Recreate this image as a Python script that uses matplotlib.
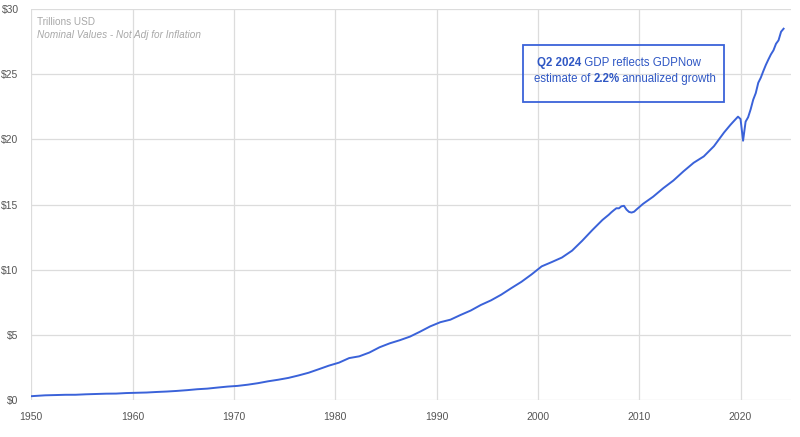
import numpy as np
import matplotlib.pyplot as plt

# US nominal GDP, trillions USD (annual points, quarterly around 2008 and 2020)
years = [1950.0] + [y + 0.375 for y in range(1950, 2007)]
gdp = [0.281,
       0.300, 0.348, 0.368, 0.389, 0.391, 0.426, 0.450, 0.474, 0.481, 0.522,
       0.543, 0.563, 0.605, 0.639, 0.686, 0.744, 0.815, 0.862, 0.943, 1.019,
       1.073, 1.165, 1.280, 1.425, 1.545, 1.684, 1.873, 2.082, 2.352, 2.627,
       2.857, 3.207, 3.343, 3.634, 4.037, 4.339, 4.580, 4.855, 5.236, 5.642,
       5.963, 6.158, 6.520, 6.859, 7.287, 7.640, 8.073, 8.578, 9.063, 9.631,
       10.251, 10.582, 10.929, 11.457, 12.217, 13.039, 13.816]

q_2007_2009 = [14.216, 14.402, 14.564, 14.715,
               14.707, 14.865, 14.899, 14.608,
               14.430, 14.382, 14.450, 14.629]
annual_2010_2018 = [15.049, 15.600, 16.254, 16.843, 17.551, 18.206, 18.695, 19.477, 20.533]
q_2019_2024 = [21.115, 21.329, 21.540, 21.747,
               21.562, 19.900, 21.362, 21.704,
               22.314, 23.047, 23.550, 24.349,
               24.741, 25.248, 25.724, 26.138,
               26.530, 26.841, 27.342, 27.610,
               28.269, 28.500]

years += [2007 + i / 4 for i in range(len(q_2007_2009))]
gdp += q_2007_2009
years += [y + 0.375 for y in range(2010, 2019)]
gdp += annual_2010_2018
years += [2019 + i / 4 for i in range(len(q_2019_2024))]
gdp += q_2019_2024

BLUE = '#3a62d9'
TEXT_BLUE = '#2f57c4'
GRID = '#dcdcdc'

plt.rcParams['font.family'] = ['Liberation Sans', 'DejaVu Sans']

fig = plt.figure(figsize=(8, 4.37), dpi=100)
ax = fig.add_axes([0.039, 0.085, 0.95, 0.894])

ax.plot(years, gdp, color=BLUE, lw=1.4, solid_joinstyle='round')

ax.set_xlim(1950, 2025)
ax.set_ylim(0, 30)
ax.set_xticks(range(1950, 2030, 10))
ax.set_yticks(range(0, 35, 5))
ax.set_yticklabels([f'${v}' for v in range(0, 35, 5)])
ax.grid(True, color=GRID, lw=0.9)
ax.set_axisbelow(True)
for s in ax.spines.values():
    s.set_visible(False)
ax.tick_params(length=0, labelsize=7.5, colors='#555555')
ax.tick_params(axis='x', pad=9)
ax.tick_params(axis='y', pad=9)

ax.text(0.008, 0.967, 'Trillions USD', transform=ax.transAxes, fontsize=7.2,
        color='#a8a8a8', va='center')
ax.text(0.008, 0.934, 'Nominal Values - Not Adj for Inflation', transform=ax.transAxes,
        fontsize=7.2, color='#a8a8a8', style='italic', va='center')

# annotation box
box = plt.Rectangle((0.647, 0.762), 0.265, 0.146, transform=ax.transAxes,
                    fill=False, edgecolor=BLUE, lw=1.3)
ax.add_patch(box)

t1 = ax.text(0.665, 0.862, 'Q2 2024', transform=ax.transAxes, fontsize=8.3,
             color=TEXT_BLUE, weight='bold', va='center')
ax.annotate(' GDP reflects GDPNow', xy=(1, 0.5), xycoords=t1, va='center',
            fontsize=8.3, color=TEXT_BLUE)
t2 = ax.text(0.661, 0.821, 'estimate of ', transform=ax.transAxes, fontsize=8.3,
             color=TEXT_BLUE, va='center')
t3 = ax.annotate('2.2%', xy=(1, 0.5), xycoords=t2, va='center',
                 fontsize=8.3, color=TEXT_BLUE, weight='bold')
ax.annotate(' annualized growth', xy=(1, 0.5), xycoords=t3, va='center',
            fontsize=8.3, color=TEXT_BLUE)

fig.savefig('out.png', dpi=100)
